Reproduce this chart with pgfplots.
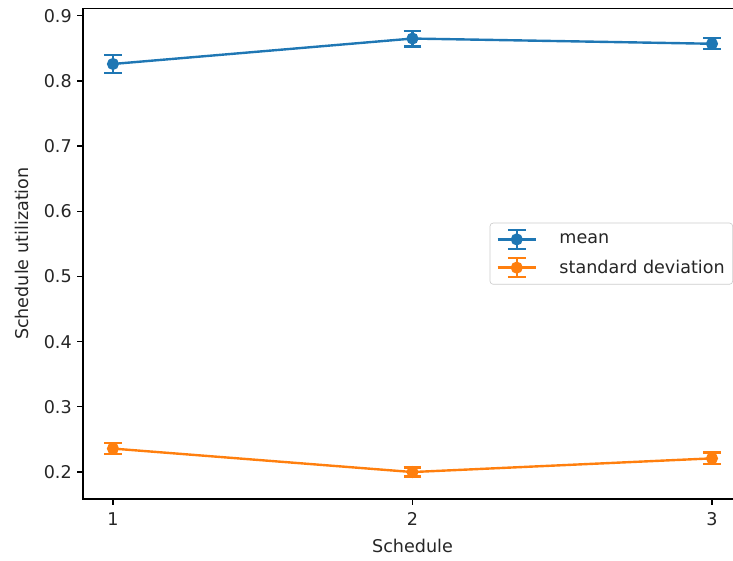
\documentclass[border=0pt]{standalone}
\usepackage{fontspec}
\setmainfont{DejaVu Sans}
\usepackage{pgfplots}
\pgfplotsset{compat=1.18}
\definecolor{c0}{HTML}{1F77B4}
\definecolor{c1}{HTML}{FF7F0E}
\definecolor{txt}{HTML}{262626}
\begin{document}
\begin{tikzpicture}[font=\fontsize{11}{13}\selectfont]
\begin{axis}[
  at={(0,0)}, anchor=south west,
  scale only axis, width=412.5pt, height=307.2pt,
  xmin=0.9, xmax=3.1, ymin=0.1586, ymax=0.9114,
  xtick={1,2,3},
  ytick={0.2,0.3,0.4,0.5,0.6,0.7,0.8,0.9},
  yticklabel style={/pgf/number format/fixed, /pgf/number format/precision=1, /pgf/number format/fixed zerofill},
  /pgf/number format/assume math mode=true,
  tick align=outside, tick pos=left,
  major tick length=3.5pt,
  every tick/.style={black, line width=0.8pt},
  axis line style={line width=0.8pt},
  ticklabel style={font=\fontsize{11}{13}\selectfont, text=txt},
  xticklabel style={yshift=-1.5pt},
  xlabel={Schedule}, ylabel={Schedule utilization},
  xlabel style={at={(0.5,-0.0958)}, anchor=center, text=txt},
  ylabel style={at={(-0.0926,0.5)}, anchor=center, text=txt},
  legend style={at={(1,0.5)}, anchor=east, xshift=-5.6pt, draw=black!20, rounded corners=2pt, fill=white,
    font=\fontsize{11}{13}\selectfont, text=txt, inner xsep=3pt, inner ysep=3.5pt, row sep=4pt,
    cells={anchor=west}},
  legend image code/.code={
    \draw[#1, mark=none, line width=1.5pt] (0pt,0pt) -- (24pt,0pt);
    \draw[#1, mark=none, line width=1.5pt] (12pt,-6pt) -- (12pt,6pt);
    \draw[#1, mark=none, line width=1.5pt] (6.5pt,-6pt) -- (17.5pt,-6pt) (6.5pt,6pt) -- (17.5pt,6pt);
    \draw[#1, line width=1.5pt] plot coordinates {(12pt,0pt)};
    \path (-1pt,0pt) (36pt,0pt);
  },
]
\addplot[c0, line width=1.5pt, mark=*, mark size=3pt, mark options={solid, fill=c0},
  error bars/.cd, y dir=both, y explicit,
  error bar style={line width=1.5pt},
  error mark options={rotate=90, line width=1.5pt, mark size=5.5pt}]
  table[x=x, y=y, y error=e] {
x y e
1 0.826 0.0135
2 0.865 0.012
3 0.857 0.0085
};
\addlegendentry{mean}
\addplot[c1, line width=1.5pt, mark=*, mark size=3pt, mark options={solid, fill=c1},
  error bars/.cd, y dir=both, y explicit,
  error bar style={line width=1.5pt},
  error mark options={rotate=90, line width=1.5pt, mark size=5.5pt}]
  table[x=x, y=y, y error=e] {
x y e
1 0.236 0.0087
2 0.200 0.007
3 0.221 0.0088
};
\addlegendentry{standard deviation}
\end{axis}
\pgfresetboundingbox
\useasboundingbox (-51.96pt,-38.19pt) rectangle (406.9pt,312.4pt);
\end{tikzpicture}
\end{document}
